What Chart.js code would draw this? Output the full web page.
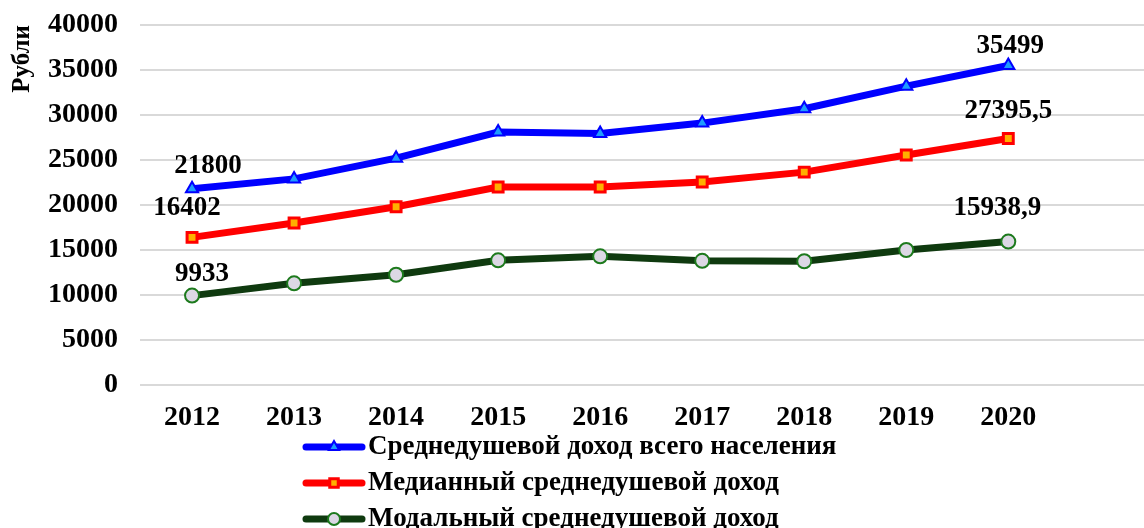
<!DOCTYPE html>
<html>
<head>
<meta charset="utf-8">
<script src="https://cdn.jsdelivr.net/npm/chart.js@4.4.0/dist/chart.umd.min.js"></script>
<style>
  html, body { margin: 0; padding: 0; background: #fff; }
</style>
</head>
<body>
<canvas id="incomeChart" width="1144" height="528"></canvas>
<script>
// ---- data ----
const YEARS = [2012, 2013, 2014, 2015, 2016, 2017, 2018, 2019, 2020];
const AVG_INCOME = [21800, 22900, 25200, 28100, 27950, 29100, 30700, 33200, 35499];
const MEDIAN_INCOME = [16402, 18000, 19800, 22000, 22000, 22550, 23650, 25550, 27395.5];
const MODAL_INCOME = [9933, 11300, 12250, 13850, 14300, 13800, 13750, 15000, 15938.9];
const SERIES_NAMES = [
    "Среднедушевой доход всего населения",
    "Медианный среднедушевой доход",
    "Модальный среднедушевой доход"
];
const Y_TICKS = [0, 5000, 10000, 15000, 20000, 25000, 30000, 35000, 40000];
const Y_TITLE = "Рубли";

const FONT_FAMILY = '"Liberation Serif", "Times New Roman", serif';

// where the first/last value labels sit relative to their point (dx, dy)
const LABEL_OFFSETS = [
    [[16, -23], [2, -19]],
    [[-5, -29], [0, -27]],
    [[10, -22], [-11, -34]]
];

function toPoints(values) {
    return values.map((v, i) => ({ x: YEARS[i], y: v }));
}

function formatValue(v) {
    return String(v).replace('.', ',');
}

// value labels on the first and last point of each line
const endLabels = {
    id: 'endLabels',
    afterDatasetsDraw(chart) {
        const ctx = chart.ctx;
        ctx.save();
        ctx.font = 'bold 27px ' + FONT_FAMILY;
        ctx.fillStyle = '#000';
        ctx.textAlign = 'center';
        ctx.textBaseline = 'middle';
        chart.data.datasets.forEach((ds, i) => {
            const meta = chart.getDatasetMeta(i);
            const last = ds.data.length - 1;
            [0, last].forEach((idx, k) => {
                const pt = meta.data[idx];
                const off = LABEL_OFFSETS[i][k];
                ctx.fillText(formatValue(ds.data[idx].y), pt.x + off[0], pt.y + off[1]);
            });
        });
        ctx.restore();
    }
};

// legend under the chart: line sample with marker, then the name
const LEGEND_X = 306;
const LEGEND_TOP = 447;
const LEGEND_STEP = 36;
const lineLegend = {
    id: 'lineLegend',
    afterDraw(chart) {
        const ctx = chart.ctx;
        chart.data.datasets.forEach((ds, i) => {
            const y = LEGEND_TOP + i * LEGEND_STEP;
            ctx.save();
            ctx.strokeStyle = ds.borderColor;
            ctx.lineWidth = ds.borderWidth;
            ctx.lineCap = 'round';
            ctx.beginPath();
            ctx.moveTo(LEGEND_X, y);
            ctx.lineTo(LEGEND_X + 56, y);
            ctx.stroke();
            ctx.fillStyle = ds.pointBackgroundColor;
            ctx.strokeStyle = ds.pointBorderColor;
            ctx.lineWidth = ds.pointBorderWidth;
            Chart.helpers.drawPoint(ctx, {
                pointStyle: ds.pointStyle,
                radius: ds.pointRadius - 1,
                borderWidth: ds.pointBorderWidth
            }, LEGEND_X + 28, y);
            ctx.font = 'bold 27px ' + FONT_FAMILY;
            ctx.fillStyle = '#000';
            ctx.textAlign = 'left';
            ctx.textBaseline = 'middle';
            ctx.fillText(ds.label, LEGEND_X + 62, y);
            ctx.restore();
        });
    }
};

const ctx = document.getElementById('incomeChart').getContext('2d');
const incomeChart = new Chart(ctx, {
    type: 'line',
    data: {
        datasets: [{
            label: SERIES_NAMES[0],
            data: toPoints(AVG_INCOME),
            borderColor: '#0000ff',
            borderWidth: 7,
            pointStyle: 'triangle',
            pointRadius: 7,
            pointBackgroundColor: '#1e9bff',
            pointBorderColor: '#0000ff',
            pointBorderWidth: 2,
        }, {
            label: SERIES_NAMES[1],
            data: toPoints(MEDIAN_INCOME),
            borderColor: '#ff0000',
            borderWidth: 7,
            pointStyle: 'rect',
            pointRadius: 7,
            pointBackgroundColor: '#ffb000',
            pointBorderColor: '#ff0000',
            pointBorderWidth: 3,
        }, {
            label: SERIES_NAMES[2],
            data: toPoints(MODAL_INCOME),
            borderColor: '#0f3a0f',
            borderWidth: 7,
            pointStyle: 'circle',
            pointRadius: 7,
            pointBackgroundColor: '#dcd8e4',
            pointBorderColor: '#1d7a1d',
            pointBorderWidth: 2,
        }],
    },
    options: {
        responsive: false,
        animation: false,
        layout: { autoPadding: false, padding: { left: 5, top: 25, right: 0, bottom: 0 } },
        plugins: {
            legend: { display: false },
            tooltip: { enabled: false },
        },
        scales: {
            x: {
                type: 'linear',
                min: 2011.49,
                max: 2021.33,
                grid: { display: false, drawTicks: false },
                border: { display: false },
                afterBuildTicks: (scale) => {
                    scale.ticks = YEARS.map(v => ({ value: v }));
                },
                afterFit: (scale) => { scale.height = 143; },
                ticks: {
                    autoSkip: false,
                    maxRotation: 0,
                    padding: 16,
                    color: '#000',
                    font: { family: FONT_FAMILY, size: 28, weight: 'bold' },
                    callback: (v) => String(v),
                },
            },
            y: {
                min: 0,
                max: 40000,
                afterBuildTicks: (scale) => {
                    scale.ticks = Y_TICKS.map(v => ({ value: v }));
                },
                afterFit: (scale) => { scale.width = 135; },
                grid: {
                    color: '#d9d9d9',
                    lineWidth: 2,
                    drawTicks: true,
                    tickLength: 22,
                    tickColor: 'rgba(0,0,0,0)',
                },
                border: { display: false },
                ticks: {
                    padding: 0,
                    color: '#000',
                    font: { family: FONT_FAMILY, size: 28, weight: 'bold' },
                    callback: (v) => String(v),
                },
                title: {
                    display: true,
                    text: Y_TITLE,
                    align: 'end',
                    color: '#000',
                    padding: { top: 3, bottom: 0 },
                    font: { family: FONT_FAMILY, size: 25, weight: 'bold' },
                },
            },
        },
    },
    plugins: [endLabels, lineLegend],
});
</script>
</body>
</html>
